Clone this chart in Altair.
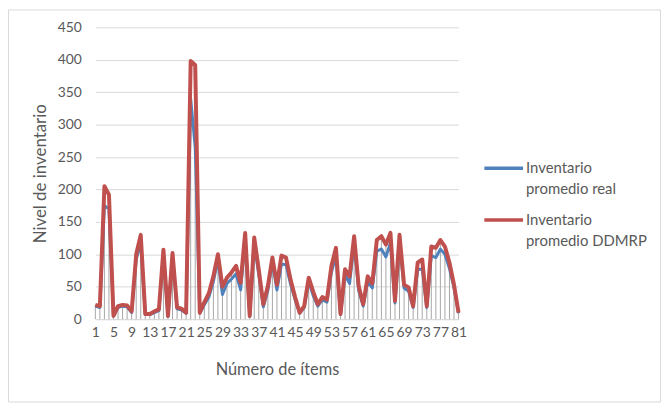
import altair as alt
import pandas as pd

items = list(range(1, 82))

real = [20, 18, 175, 170, 5, 18, 20, 19, 10, 92,
        118, 7, 7, 10, 13, 100, 4, 96, 16, 14,
        9, 340, 265, 9, 22, 34, 58, 92, 38, 55,
        62, 70, 45, 125, 4, 118, 68, 19, 44, 88,
        45, 85, 84, 54, 30, 9, 18, 58, 36, 20,
        30, 26, 72, 98, 7, 68, 55, 118, 44, 20,
        58, 48, 105, 108, 96, 118, 25, 118, 48, 43,
        18, 76, 78, 18, 98, 95, 108, 100, 78, 48,
        9]

ddmrp = [22, 20, 205, 192, 5, 20, 22, 21, 12, 100,
         130, 8, 8, 12, 15, 107, 5, 102, 18, 16,
         10, 398, 392, 10, 26, 40, 66, 100, 50, 64,
         72, 82, 56, 133, 5, 126, 76, 23, 51, 95,
         53, 98, 95, 61, 34, 10, 20, 64, 42, 23,
         34, 30, 82, 110, 8, 77, 66, 128, 51, 23,
         66, 55, 122, 128, 115, 133, 28, 130, 53, 49,
         20, 87, 92, 20, 112, 110, 122, 112, 87, 53,
         10]

series_names = ["Inventario promedio real", "Inventario promedio DDMRP"]
legend_lines = [["Inventario", "promedio real"], ["Inventario", "promedio DDMRP"]]
series_colors = ["#4f81bd", "#c0504d"]
x_ticks = items[::4]
y_ticks = list(range(0, 451, 50))

long_df = pd.DataFrame({
    "item": items * 2,
    "valor": real + ddmrp,
    "serie": [series_names[0]] * len(items) + [series_names[1]] * len(items),
})
drop_df = pd.DataFrame({"item": items, "top": [max(a, b) for a, b in zip(real, ddmrp)]})

FONT = "Lato"
TXT = "#595959"
W, H = 366, 294
PAD = {"left": 88, "top": 18, "right": 204, "bottom": 84}

x_scale = alt.Scale(domain=[1, 81], nice=False, zero=False)
y_scale = alt.Scale(domain=[0, 450], nice=False)
c_scale = alt.Scale(domain=series_names, range=series_colors)

x_axis = alt.Axis(values=x_ticks, labelOverlap=False, labelFlush=False, ticks=False,
                  grid=False, domainColor="#d9d9d9", labelFontSize=14, labelPadding=6,
                  labelColor=TXT, labelFont=FONT, title="Número de ítems",
                  titleFont=FONT, titleFontSize=16.5, titleFontWeight="normal",
                  titleColor=TXT, titleX=W / 2, titleY=51, titleBaseline="middle")
y_axis = alt.Axis(values=y_ticks, grid=True, gridColor="#d9d9d9", domain=False,
                  ticks=False, labelPadding=14, labelFontSize=14, labelColor=TXT,
                  labelFont=FONT, labelOverlap=False, title="Nivel de inventario",
                  titleFont=FONT, titleFontSize=17, titleFontWeight="normal",
                  titleColor=TXT, titleX=-55, titleY=H / 2, titleAngle=270,
                  titleBaseline="middle", titleAlign="center")

drops = alt.Chart(drop_df).mark_rule(color="#a6a6a6", strokeWidth=1).encode(
    x=alt.X("item:Q", scale=x_scale, axis=x_axis),
    y=alt.Y("top:Q", scale=y_scale, axis=y_axis),
    y2=alt.datum(0),
)


def series_layer(name, width):
    return alt.Chart(long_df).transform_filter(
        alt.datum.serie == name
    ).mark_line(strokeWidth=width, strokeJoin="round").encode(
        x=alt.X("item:Q", scale=x_scale, axis=x_axis),
        y=alt.Y("valor:Q", scale=y_scale, axis=y_axis),
        color=alt.Color("serie:N", scale=c_scale, legend=None),
    )


blue = series_layer(series_names[0], 3)
red = series_layer(series_names[1], 4)

# manual legend
legend_layers = []
for k, (name, lines) in enumerate(zip(series_names, legend_lines)):
    ldf = pd.DataFrame({"serie": [name], "txt": ["\n".join(lines)]})
    y0 = 142 + 52 * k
    sym = alt.Chart(ldf).mark_rule(strokeWidth=3.5).encode(
        x=alt.value(392), x2=alt.value(431), y=alt.value(y0),
        color=alt.Color("serie:N", scale=c_scale, legend=None),
    )
    lab = alt.Chart(ldf).mark_text(
        align="left", baseline="middle", font=FONT, fontSize=15, color=TXT,
        lineBreak="\n", lineHeight=21,
    ).encode(x=alt.value(434), y=alt.value(y0), text="txt:N")
    legend_layers += [sym, lab]

border = alt.Chart(pd.DataFrame({"b": [0]})).mark_rect(
    fill=None, stroke="#d9d9d9", strokeWidth=1
).encode(
    x=alt.value(-PAD["left"] + 0.5), x2=alt.value(W + PAD["right"] - 0.5),
    y=alt.value(-PAD["top"] + 0.5), y2=alt.value(H + PAD["bottom"] - 0.5),
)

chart = alt.layer(border, drops, blue, red, *legend_layers).properties(
    width=W, height=H,
    autosize=alt.AutoSizeParams(type="none"),
    padding=PAD,
    background="white",
).configure_view(stroke=None)

chart.save("out.html", embed_options={"renderer": "svg", "actions": False})
